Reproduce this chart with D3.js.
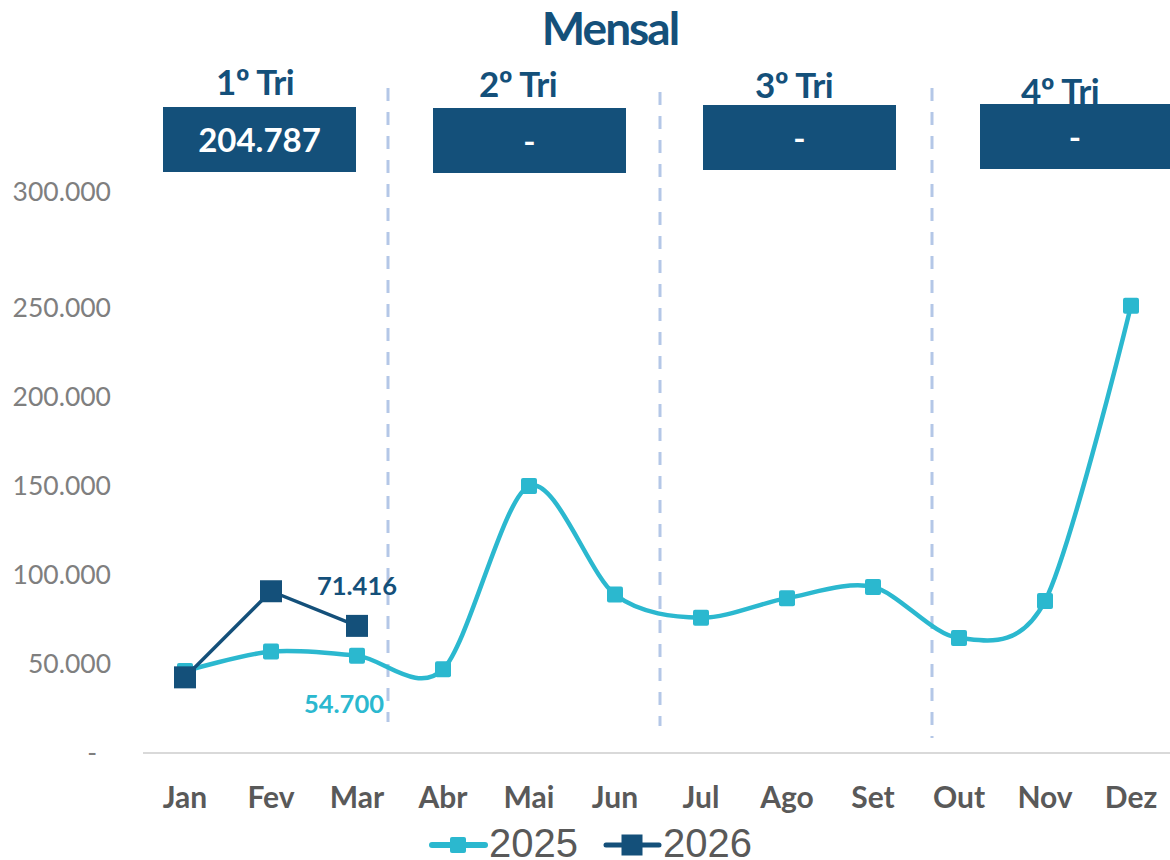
<!DOCTYPE html>
<html><head><meta charset="utf-8">
<script src="https://cdn.jsdelivr.net/npm/d3@7"></script>
<style>body{margin:0;background:#fff}svg{display:block}</style>
</head><body>
<svg id="c" width="1170" height="860"></svg>
<script>
const months = ["Jan","Fev","Mar","Abr","Mai","Jun","Jul","Ago","Set","Out","Nov","Dez"];
const values2025 = [46000,57000,54700,47000,150000,89000,76000,87000,93300,64600,85400,251000];
const values2026 = [42500,90871,71416];
const yTicks = [0,50000,100000,150000,200000,250000,300000];
const quarterLabels = ["1º Tri","2º Tri","3º Tri","4º Tri"];
const quarterValues = ["204.787","-","-","-"];
const seriesNames = ["2025","2026"];

const C1 = "#2bb8cf", C2 = "#14507a";
const svg = d3.select("#c");
const fmt = v => v === 0 ? "-" : d3.format(",.0f")(v).replace(/,/g,".");

const x = d3.scaleBand().domain(months).range([142,1174]);
const cx = m => x(m) + x.bandwidth()/2;
const y = d3.scaleLinear().domain([0,250000,300000]).range([753,308,192]);

// title
svg.append("text").attr("x",610).attr("y",45).attr("text-anchor","middle")
  .attr("font-family","Lato").attr("font-weight","bold").attr("font-size",46)
  .attr("letter-spacing",-2).attr("fill",C2).text("Mensal");

// quarter boxes
const qBoxes = [{x:163,y:107,w:193,h:65,ly:95},{x:433,y:108,w:193,h:65,ly:97},{x:703,y:105,w:193,h:65,ly:98},{x:980,y:104,w:190,h:65,ly:104}];
const qLabelX = [255,518,794,1060];
qBoxes.forEach((b,i)=>{
  svg.append("rect").attr("x",b.x).attr("y",b.y).attr("width",b.w).attr("height",b.h).attr("fill",C2);
  svg.append("text").attr("x",b.x+b.w/2).attr("y",b.y+b.h/2+12).attr("text-anchor","middle")
    .attr("font-family","Lato").attr("font-weight","bold").attr("font-size",33).attr("fill","#fff").text(quarterValues[i]);
  svg.append("text").attr("x",qLabelX[i]).attr("y",b.ly).attr("text-anchor","middle")
    .attr("font-family","Lato").attr("font-weight","bold").attr("font-size",35).attr("letter-spacing",-0.5).attr("fill",C2).text(quarterLabels[i]);
});

// separators
[{x:388,y1:88,y2:722},{x:660,y1:92,y2:726},{x:932,y1:88,y2:738}].forEach(s=>{
  svg.append("line").attr("x1",s.x).attr("x2",s.x).attr("y1",s.y1).attr("y2",s.y2)
    .attr("stroke","#b4c7e7").attr("stroke-width",3).attr("stroke-dasharray","13,11");
});

// y axis labels
svg.append("g").selectAll("text").data(yTicks).join("text")
  .attr("x",111).attr("y",d=>y(d)+9).attr("text-anchor","end")
  .attr("font-family","Lato").attr("font-size",26.5).attr("fill","#7f7f7f")
  .text(d=>d===0?"-":fmt(d)).attr("dx",d=>d===0?-14:0);

// x axis line
svg.append("line").attr("x1",143).attr("x2",1170).attr("y1",753).attr("y2",753)
  .attr("stroke","#d9d9d9").attr("stroke-width",2);
svg.append("g").selectAll("text").data(months).join("text")
  .attr("x",d=>cx(d)).attr("y",808).attr("text-anchor","middle")
  .attr("font-family","Lato").attr("font-weight","bold").attr("font-size",30).attr("fill","#595959").text(d=>d);

// 2025 smooth line
const line25 = d3.line().x((d,i)=>cx(months[i])).y(d=>y(d)).curve(d3.curveCardinal.tension(0.1));
svg.append("path").datum(values2025).attr("d",line25).attr("fill","none").attr("stroke",C1).attr("stroke-width",4.5);
svg.append("g").selectAll("rect").data(values2025).join("rect")
  .attr("x",(d,i)=>cx(months[i])-8).attr("y",d=>y(d)-8).attr("width",16).attr("height",16).attr("rx",2)
  .attr("fill",C1);

// 2026 line
const line26 = d3.line().x((d,i)=>cx(months[i])).y(d=>y(d));
svg.append("path").datum(values2026).attr("d",line26).attr("fill","none").attr("stroke",C2).attr("stroke-width",3.5);
svg.append("g").selectAll("rect").data(values2026).join("rect")
  .attr("x",(d,i)=>cx(months[i])-11).attr("y",d=>y(d)-11).attr("width",22).attr("height",22)
  .attr("fill",C2);

// data labels
svg.append("text").attr("x",cx("Mar")).attr("y",y(values2026[2])-31).attr("text-anchor","middle")
  .attr("font-family","Lato").attr("font-weight","bold").attr("font-size",25.5).attr("fill",C2).text(fmt(values2026[2]));
svg.append("text").attr("x",cx("Mar")-13).attr("y",y(values2025[2])+57).attr("text-anchor","middle")
  .attr("font-family","Lato").attr("font-weight","bold").attr("font-size",25.5).attr("fill",C1).text(fmt(values2025[2]));

// legend
const leg = [{x:430,c:C1,s:16,lw:6},{x:604,c:C2,s:21,lw:5}];
leg.forEach((l,i)=>{
  svg.append("line").attr("x1",l.x+2).attr("x2",l.x+55).attr("y1",845).attr("y2",845)
    .attr("stroke",l.c).attr("stroke-width",l.lw).attr("stroke-linecap","round");
  svg.append("rect").attr("x",l.x+28-l.s/2).attr("y",845-l.s/2).attr("width",l.s).attr("height",l.s).attr("rx",i?0:2).attr("fill",l.c);
  svg.append("text").attr("x",l.x+59).attr("y",857).attr("font-family","Liberation Sans").attr("font-size",40)
    .attr("fill","#595959").text(seriesNames[i]);
});
</script>
</body></html>
